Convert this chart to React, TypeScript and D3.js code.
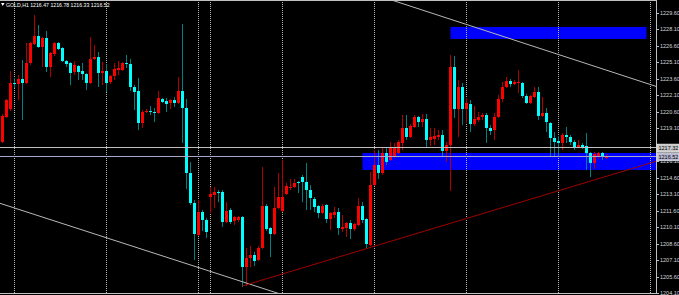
import React from "react";
import * as d3 from "d3";

const W = 679;
const H = 295;
const PLOT_W = 656;
const PLOT_H = 294;

const header = "GOLD,H1 1216.47 1216.78 1216.33 1216.52";

const opens = [
  1217.87,1220.14,1220.87,1223.23,1223.14,1223.60,1223.23,1225.05,1226.78,1227.51,
  1226.51,1227.33,1224.69,1225.87,1226.87,1226.42,1225.23,1225.05,1224.23,1224.78,
  1224.33,1224.05,1223.23,1225.42,1225.60,1224.14,1224.33,1223.33,1223.87,1224.42,
  1224.42,1225.05,1224.96,1222.87,1222.51,1219.60,1220.60,1220.69,1220.60,1220.51,
  1221.78,1221.60,1221.42,1221.69,1221.42,1222.51,1220.96,1215.05,1212.33,1209.42,
  1211.51,1210.78,1212.87,1213.05,1213.33,1213.33,1210.60,1211.69,1210.69,1210.78,
  1211.05,1206.51,1207.33,1207.60,1207.14,1208.23,1212.05,1210.05,1209.51,1211.87,
  1211.60,1213.14,1213.69,1213.78,1214.23,1214.69,1214.23,1213.51,1212.69,1212.05,
  1211.42,1212.14,1210.87,1211.23,1211.51,1209.96,1210.05,1210.51,1209.96,1210.33,
  1212.05,1210.87,1208.51,1213.96,1215.78,1215.05,1216.87,1216.23,1216.51,1216.87,
  1217.78,1219.14,1218.33,1219.23,1220.14,1219.69,1219.96,1218.05,1218.14,1218.33,
  1218.51,1217.05,1217.60,1224.69,1220.87,1222.87,1220.87,1221.33,1219.51,1219.87,
  1220.14,1220.33,1219.14,1218.96,1220.14,1221.78,1222.87,1223.42,1223.14,1223.23,
  1223.23,1222.05,1221.42,1221.96,1222.42,1220.23,1220.51,1219.60,1218.23,1217.96,
  1217.78,1218.51,1218.33,1217.87,1217.42,1217.60,1217.51,1216.87,1215.96,1216.60,
  1216.87,1216.47,
];

const highs = [
  1220.42,1221.78,1224.33,1223.69,1223.96,1225.33,1226.87,1226.96,1229.42,1228.51,
  1227.42,1227.96,1226.05,1226.96,1226.96,1226.51,1225.33,1225.14,1225.23,1224.87,
  1225.05,1224.14,1227.42,1226.69,1226.05,1225.14,1224.96,1223.96,1225.05,1225.23,
  1225.14,1225.78,1225.42,1223.05,1223.69,1220.78,1220.87,1221.14,1220.96,1222.51,
  1221.87,1221.87,1221.78,1221.96,1223.78,1228.60,1221.78,1216.05,1212.60,1212.60,
  1211.69,1210.96,1213.78,1213.78,1213.51,1213.51,1212.42,1211.87,1211.14,1211.14,
  1211.14,1208.23,1208.42,1207.87,1208.42,1215.60,1212.23,1210.14,1213.78,1215.05,
  1216.23,1214.14,1214.51,1214.51,1214.33,1214.87,1215.96,1213.96,1212.87,1212.14,
  1212.23,1212.23,1211.51,1211.96,1211.87,1211.23,1210.60,1210.78,1210.51,1212.78,
  1212.42,1210.96,1215.14,1217.14,1217.14,1217.33,1217.33,1217.87,1217.78,1218.05,
  1220.33,1220.33,1219.51,1220.33,1220.23,1220.42,1220.42,1219.14,1219.14,1218.96,
  1218.96,1217.87,1225.78,1225.69,1223.51,1223.23,1221.87,1221.69,1221.14,1220.60,
  1220.51,1220.51,1219.42,1220.51,1222.14,1223.33,1223.78,1223.60,1223.51,1224.42,
  1223.33,1222.23,1222.14,1222.87,1222.87,1221.96,1220.96,1219.69,1218.78,1218.42,
  1218.69,1219.23,1218.51,1218.05,1218.05,1217.78,1218.69,1216.96,1216.96,1216.96,
  1216.96,1216.78,
];

const lows = [
  1217.78,1220.05,1220.69,1222.78,1221.69,1219.87,1223.14,1224.87,1226.69,1226.42,
  1224.69,1224.23,1223.78,1225.69,1226.24,1225.14,1224.69,1223.05,1223.96,1223.51,
  1223.51,1222.60,1223.14,1225.33,1222.87,1223.05,1222.42,1223.14,1223.51,1223.96,
  1224.33,1224.60,1222.51,1220.78,1218.96,1219.14,1220.51,1220.33,1219.69,1220.42,
  1221.42,1220.60,1220.87,1221.05,1221.33,1217.78,1213.60,1212.14,1207.14,1209.33,
  1209.78,1209.14,1211.42,1211.87,1212.42,1210.14,1210.51,1210.42,1210.33,1210.60,
  1204.69,1204.78,1206.51,1206.60,1207.05,1208.14,1209.78,1207.42,1209.42,1211.78,
  1211.51,1213.05,1213.51,1213.69,1213.23,1212.42,1211.69,1211.69,1211.51,1210.96,
  1211.33,1210.51,1209.87,1210.96,1209.42,1209.69,1209.23,1209.05,1209.78,1210.23,
  1210.51,1208.14,1208.42,1213.87,1214.51,1214.87,1215.78,1216.14,1216.42,1216.78,
  1217.14,1218.05,1218.23,1219.14,1219.23,1219.23,1217.42,1217.51,1217.60,1218.05,
  1216.51,1216.05,1213.42,1220.05,1218.33,1219.42,1219.60,1218.78,1219.33,1219.69,
  1219.87,1217.78,1218.51,1218.05,1220.05,1221.51,1222.78,1222.87,1223.05,1222.33,
  1221.87,1221.33,1221.33,1221.87,1219.87,1220.14,1218.78,1216.51,1216.51,1216.51,
  1217.14,1217.78,1217.60,1217.14,1217.33,1217.23,1215.33,1214.69,1215.42,1216.33,
  1216.23,1216.33,
];

const closes = [
  1220.23,1221.69,1223.23,1223.14,1223.60,1223.23,1225.05,1226.87,1227.51,1226.51,
  1227.33,1224.69,1225.96,1226.87,1226.33,1225.23,1224.96,1224.14,1224.87,1224.23,
  1224.05,1223.23,1225.42,1225.60,1224.14,1224.33,1223.23,1223.87,1224.51,1224.60,
  1225.05,1224.96,1222.87,1222.42,1219.60,1220.60,1220.69,1220.60,1220.51,1221.87,
  1221.51,1221.33,1221.69,1221.42,1222.51,1220.96,1215.05,1212.33,1209.51,1211.51,
  1210.78,1209.69,1213.14,1213.33,1213.23,1210.60,1211.60,1210.60,1211.05,1211.05,
  1206.51,1207.33,1207.60,1207.05,1208.23,1212.05,1209.96,1209.51,1211.87,1212.87,
  1212.87,1213.87,1213.78,1214.14,1214.14,1214.23,1213.51,1212.78,1211.96,1211.42,
  1212.05,1210.87,1211.42,1211.51,1210.05,1210.14,1210.51,1209.96,1210.42,1212.05,
  1210.78,1208.60,1213.96,1215.78,1215.05,1216.87,1216.05,1217.42,1217.33,1217.87,
  1219.14,1218.33,1219.33,1220.14,1219.69,1219.96,1218.05,1218.33,1218.42,1218.51,
  1217.05,1217.60,1224.69,1220.87,1222.87,1220.87,1221.42,1219.51,1219.96,1220.14,
  1220.33,1219.14,1218.87,1220.14,1221.78,1222.87,1223.42,1223.14,1223.33,1223.33,
  1222.05,1221.42,1222.05,1222.42,1220.23,1220.51,1219.69,1218.23,1217.87,1217.78,
  1218.51,1218.33,1217.87,1217.42,1217.60,1217.33,1216.87,1215.96,1216.78,1216.87,
  1216.51,1216.52,
];

const priceTicks = [
  1229.6, 1228.1, 1226.6, 1225.1, 1223.6, 1222.1, 1220.6, 1219.1, 1217.6,
  1216.1, 1214.6, 1213.1, 1211.6, 1210.1, 1208.6, 1207.1, 1205.6, 1204.1,
];

// period separators (bar indices)
const separators = [3, 26, 49, 52, 70, 93, 116, 139, 162];

// rectangle zones: [startBar, endBar], top price, bottom price
const zoneBars = [[112, 161], [90, 175]];
const zoneTops = [1228.33, 1216.87];
const zoneBottoms = [1227.24, 1215.33];

// trend lines: anchors [bar, price]
const upperLine = [[112, 1229.03], [161, 1223.21]];
const lowerLine = [[0, 1212.22], [60, 1205.16]];
const supportRay = [[60, 1204.78], [161, 1215.85]];

const hLinePrice = 1217.32;
const bidPrice = 1216.52;

const x = d3.scaleLinear().domain([0, 163]).range([2.5, 654.5]);
const y = d3.scaleLinear().domain([1204.05, 1230.78]).range([294, 0]);
const fmt = d3.format(".2f");

function extend(a: number[][], from: number, to: number) {
  const [b1, p1] = a[0];
  const [b2, p2] = a[1];
  const k = (p2 - p1) / (b2 - b1);
  return [
    [x(from), y(p1 + k * (from - b1))],
    [x(to), y(p1 + k * (to - b1))],
  ];
}

const FONT = "'Liberation Sans', Arial, sans-serif";

export default function App() {
  const bars = d3.range(opens.length);
  const lineGen = d3.line();
  const up = extend(upperLine, -10, 175);
  const lo = extend(lowerLine, -10, 175);
  const sr = extend(supportRay, supportRay[0][0], 175);
  const boxPrices = [hLinePrice, bidPrice];
  const hidden = (t: number) => boxPrices.some((p) => Math.abs(y(t) - y(p)) < 4);

  return (
    <div style={{ position: "absolute", left: 0, top: 0 }}>
      <svg width={W} height={H} style={{ display: "block", background: "#000" }}>
        <defs>
          <clipPath id="plot">
            <rect x={0} y={0} width={PLOT_W} height={PLOT_H} />
          </clipPath>
        </defs>
        <rect x={0} y={0} width={W} height={H} fill="#000" />
        <g clipPath="url(#plot)">
          {zoneBars.map((zb, i) => (
            <rect
              key={"z" + i}
              x={x(zb[0])}
              y={y(zoneTops[i])}
              width={x(zb[1]) - x(zb[0])}
              height={y(zoneBottoms[i]) - y(zoneTops[i])}
              fill="#0000ff"
            />
          ))}
          {separators.map((s) => (
            <line
              key={"s" + s}
              x1={x(s)}
              x2={x(s)}
              y1={0}
              y2={PLOT_H}
              stroke="#b4b4b4"
              strokeWidth={1}
              strokeDasharray="1,1"
            />
          ))}
          {bars.map((i) => {
            const o = opens[i], c = closes[i], h = highs[i], l = lows[i];
            const bull = c >= o;
            const top = Math.round(y(Math.max(o, c)));
            const bot = Math.round(y(Math.min(o, c)));
            const cx = x(i);
            return (
              <g key={"c" + i}>
                <line
                  x1={cx}
                  x2={cx}
                  y1={Math.round(y(h))}
                  y2={Math.round(y(l))}
                  stroke={bull ? "#b00000" : "#008080"}
                  strokeWidth={1}
                />
                <rect
                  x={cx - 1.5}
                  y={top}
                  width={3}
                  height={Math.max(1, bot - top)}
                  fill={bull ? "#ff0000" : "#00ffff"}
                />
              </g>
            );
          })}
          <path d={lineGen(up as any) || ""} stroke="#b8b8b8" strokeWidth={1} fill="none" />
          <path d={lineGen(lo as any) || ""} stroke="#b8b8b8" strokeWidth={1} fill="none" />
          <path d={lineGen(sr as any) || ""} stroke="#a00000" strokeWidth={1} fill="none" />
          <line x1={0} x2={PLOT_W} y1={Math.round(y(hLinePrice)) - 0.5} y2={Math.round(y(hLinePrice)) - 0.5} stroke="#c0c0c0" strokeWidth={1} />
          <line x1={0} x2={PLOT_W} y1={Math.round(y(bidPrice)) - 0.5} y2={Math.round(y(bidPrice)) - 0.5} stroke="#a8a8c8" strokeWidth={1} />
        </g>
        {/* frame */}
        <line x1={0} x2={PLOT_W + 0.5} y1={0.5} y2={0.5} stroke="#c0c0c0" />
        <line x1={0} x2={PLOT_W + 0.5} y1={PLOT_H - 0.5} y2={PLOT_H - 0.5} stroke="#c0c0c0" />
        <line x1={PLOT_W + 0.5} x2={PLOT_W + 0.5} y1={0} y2={PLOT_H} stroke="#c0c0c0" />
        {/* price axis */}
        {priceTicks.map((t) => (
          <g key={"t" + t}>
            <line x1={PLOT_W + 1} x2={PLOT_W + 3} y1={Math.round(y(t)) + 0.5} y2={Math.round(y(t)) + 0.5} stroke="#c0c0c0" />
            {hidden(t) ? null : (
              <text
                x={PLOT_W + 4}
                y={y(t)}
                dy="0.35em"
                fontFamily={FONT}
                fontSize={5.5}
                fill="#d8d8d8"
              >
                {fmt(t)}
              </text>
            )}
          </g>
        ))}
        {boxPrices.map((p, i) => (
          <g key={"b" + i}>
            <rect x={PLOT_W + 1} y={y(p) - 4} width={22} height={8} fill={i === 0 ? "#c8c8c8" : "#b8b8d0"} stroke="#ffffff" strokeWidth={0.5} />
            <text x={PLOT_W + 2.5} y={y(p)} dy="0.35em" fontFamily={FONT} fontSize={5.5} fill="#000">
              {fmt(p)}
            </text>
          </g>
        ))}
        {/* header */}
        <path d="M1,3 L4.5,3 L2.75,6 Z" fill="#ffffff" />
        <text x={6} y={6.5} fontFamily={FONT} fontSize={5.2} fill="#ffffff">
          {header}
        </text>
      </svg>
    </div>
  );
}
